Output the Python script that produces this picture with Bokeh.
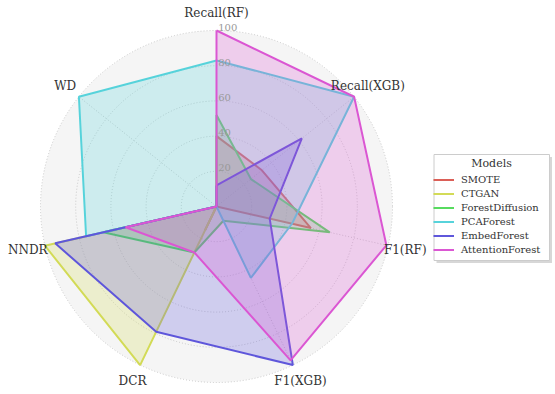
import numpy as np
from bokeh.plotting import figure
from bokeh.models import Range1d, Legend, LegendItem
from bokeh.core.properties import value
from bokeh.embed import file_html
from bokeh.resources import INLINE

categories = ["Recall(RF)", "Recall(XGB)", "F1(RF)", "F1(XGB)", "DCR", "NNDR", "WD"]
models = ["SMOTE", "CTGAN", "ForestDiffusion", "PCAForest", "EmbedForest", "AttentionForest"]
smote = [40, 33, 55, 0, 15, 0, 0]
ctgan = [0, 0, 0, 0, 100, 100, 0]
forest_diffusion = [52, 25, 66, 9, 29, 66, 0]
pca_forest = [83, 100, 44, 45, 0, 76, 100]
embed_forest = [12, 62, 31, 100, 79, 94, 0]
attention_forest = [100, 100, 99, 97, 29, 53, 0]
radial_ticks = [20, 40, 60, 80, 100]
tick_labels = ["20", "40", "60", "80", "100"]
colors = ["#db5f57", "#d3db57", "#57db5f", "#57d3db", "#5f57db", "#db57d3"]
legend_title = "Models"

series = [smote, ctgan, forest_diffusion, pca_forest, embed_forest, attention_forest]

PX = 1.76
W, H = 555, 394
CX, CY = 216, 206
RMAX = 100

def dx(px):
    return (px - CX) / PX

def dy(py):
    return (CY - py) / PX

p = figure(width=W, height=H, output_backend="svg", toolbar_location=None,
           x_range=Range1d(dx(0), dx(W)), y_range=Range1d(dy(H), dy(0)),
           x_axis_type=None, y_axis_type=None, min_border=0, outline_line_color=None)
p.background_fill_color = "white"
p.border_fill_color = "white"

n = len(categories)
ang = np.pi / 2 - 2 * np.pi * np.arange(n) / n
cosa, sina = np.cos(ang), np.sin(ang)

# background disk
p.circle(x=[0], y=[0], radius=[RMAX], fill_color="#f5f5f5", line_color=None)
# rings
p.circle(x=[0] * len(radial_ticks), y=[0] * len(radial_ticks), radius=radial_ticks,
         fill_color=None, line_color="#c8c8c8", line_dash="1 2", line_width=1)
# spokes
p.segment(x0=[0] * n, y0=[0] * n, x1=list(RMAX * cosa), y1=list(RMAX * sina),
          line_color="#c8c8c8", line_dash="1 2", line_width=1)

items = []
for name, vals, c in zip(models, series, colors):
    v = np.array(vals + vals[:1], dtype=float)
    cc = np.append(cosa, cosa[0])
    ss = np.append(sina, sina[0])
    xs = list(v * cc)
    ys = list(v * ss)
    r = p.line(xs, ys, line_color=c, line_width=2)
    p.patch(xs, ys, fill_color=c, fill_alpha=0.25, line_color=None)
    items.append(LegendItem(label=name, renderers=[r]))

# radial tick labels
p.text(x=[1] * len(radial_ticks), y=radial_ticks, text=tick_labels,
       text_font=value("DejaVu Serif"), text_font_size="10px", text_color="#999999",
       text_align="left", text_baseline="bottom")

# category labels
p.text(x=list(110 * cosa), y=list(110 * sina), text=categories,
       text_font=value("DejaVu Serif"), text_font_size="12px", text_color="#333333",
       text_align="center", text_baseline="middle")

# legend frame: shadow, white box with border, centered title
p.quad(left=[dx(436)], right=[dx(551.5)], top=[dy(156.5)], bottom=[dy(262.5)],
       fill_color="#9a9a9a", fill_alpha=0.4, line_color=None)
p.quad(left=[dx(433.5)], right=[dx(549)], top=[dy(154)], bottom=[dy(260)],
       fill_color="white", line_color="#cccccc", line_width=1)
p.text(x=[dx(491)], y=[dy(162.5)], text=[legend_title],
       text_font=value("DejaVu Serif"), text_font_size="11px", text_color="#333333",
       text_align="center", text_baseline="middle")

legend = Legend(items=items, location=(433, 138),
                label_text_font="DejaVu Serif", label_text_font_size="10px",
                label_text_color="#333333",
                glyph_width=21, glyph_height=13, label_height=13, label_standoff=7,
                spacing=1, padding=4, margin=0,
                border_line_color=None, background_fill_alpha=0)
p.add_layout(legend)

open("out.html", "w").write(file_html(p, INLINE))
